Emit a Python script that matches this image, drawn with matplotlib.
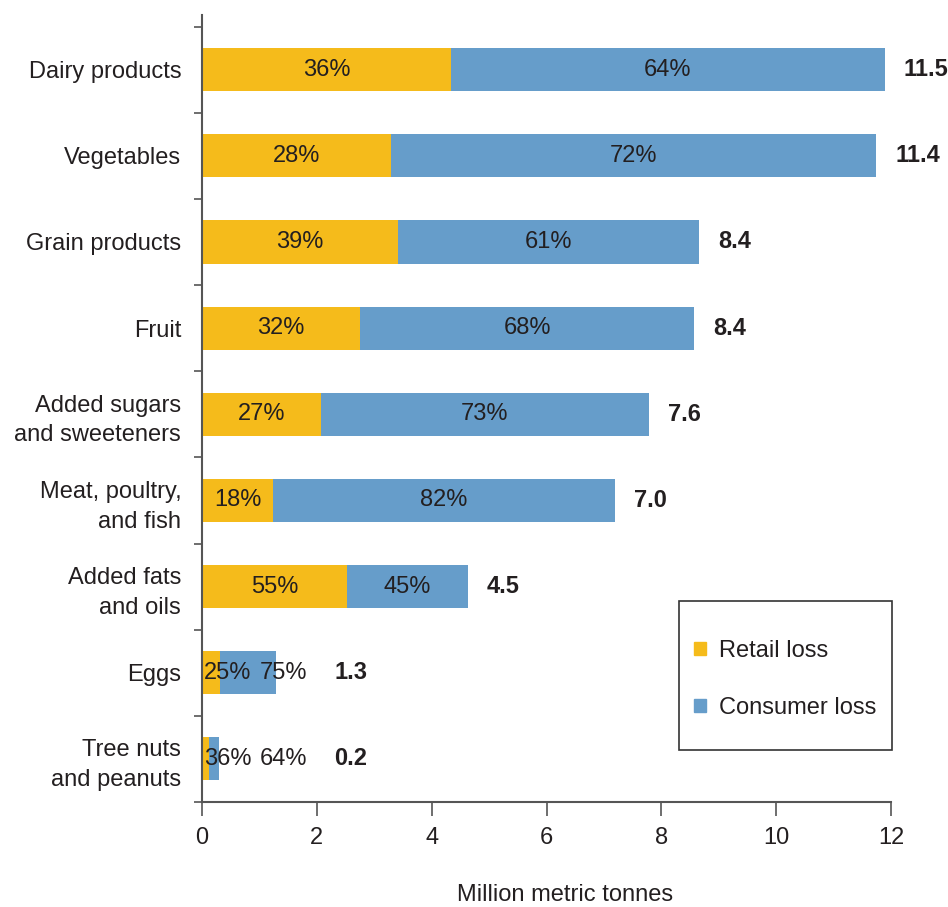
import numpy as np
import matplotlib
matplotlib.use("Agg")
import matplotlib.pyplot as plt
from matplotlib.patches import Patch, Rectangle

plt.rcParams['font.family'] = ['Liberation Sans', 'DejaVu Sans']

categories = ["Dairy products", "Vegetables", "Grain products", "Fruit",
              "Added sugars\nand sweeteners", "Meat, poultry,\nand fish",
              "Added fats\nand oils", "Eggs", "Tree nuts\nand peanuts"]
retail = [4.34, 3.29, 3.41, 2.75, 2.07, 1.24, 2.53, 0.32, 0.12]
consumer = [7.55, 8.45, 5.25, 5.82, 5.71, 5.95, 2.10, 0.97, 0.18]
retail_pct = ["36%", "28%", "39%", "32%", "27%", "18%", "55%", "25%", "36%"]
consumer_pct = ["64%", "72%", "61%", "68%", "73%", "82%", "45%", "75%", "64%"]
totals = ["11.5", "11.4", "8.4", "8.4", "7.6", "7.0", "4.5", "1.3", "0.2"]

c_retail = "#F5BB1B"
c_consumer = "#669DCA"
txt = "#231F20"

fig = plt.figure(figsize=(9.48, 9.07), dpi=100)
ax = fig.add_axes([0.2131, 0.1158, 0.7268, 0.8677])

y = np.arange(len(categories))
retail = np.array(retail)
consumer = np.array(consumer)
ax.barh(y, retail, height=0.5, color=c_retail)
ax.barh(y, consumer, left=retail, height=0.5, color=c_consumer)

fs = 17
for i in range(len(categories)):
    tot = retail[i] + consumer[i]
    if tot > 2:
        ax.text(retail[i] / 2, i, retail_pct[i], ha='center', va='center', fontsize=fs, color=txt)
        ax.text(retail[i] + consumer[i] / 2, i, consumer_pct[i], ha='center', va='center', fontsize=fs, color=txt)
        ax.text(tot + 0.33, i, totals[i], ha='left', va='center', fontsize=fs, fontweight='bold', color=txt)
    else:
        ax.text(0.04, i, retail_pct[i], ha='left', va='center', fontsize=fs, color=txt)
        ax.text(1.0, i, consumer_pct[i], ha='left', va='center', fontsize=fs, color=txt)
        ax.text(2.3, i, totals[i], ha='left', va='center', fontsize=fs, fontweight='bold', color=txt)

ax.set_xlim(0, 12)
ax.set_ylim(8.5, -0.635)
ax.set_xticks(np.arange(0, 13, 2))
ax.set_yticks(np.arange(-0.5, 9, 1))
ax.set_yticklabels([])
ax.set_yticks(y, minor=True)
ax.set_yticklabels(categories, minor=True, fontsize=fs, color=txt, ha='right',
                   multialignment='right', linespacing=1.45)
ax.tick_params(axis='y', which='minor', length=0, pad=15)
ax.tick_params(axis='y', which='major', length=6, color='#555555', width=1.2)
ax.tick_params(axis='x', length=10, color='#555555', width=1.2, labelsize=fs, labelcolor=txt, pad=8)

for s in ['top', 'right']:
    ax.spines[s].set_visible(False)
for s in ['left', 'bottom']:
    ax.spines[s].set_color('#555555')
    ax.spines[s].set_linewidth(1.5)

ax.set_xlabel("Million metric tonnes", fontsize=fs, color=txt, labelpad=25)
ax.xaxis.label.set_x(0.527)

# legend box
box = (0.692, 0.066, 0.3095, 0.1894)
ax.add_patch(Rectangle(box[:2], box[2], box[3], transform=ax.transAxes, fill=False,
                       edgecolor='#333333', linewidth=1.2, clip_on=False, zorder=5))
handles = [Patch(color=c_retail, label="Retail loss"), Patch(color=c_consumer, label="Consumer loss")]
leg = ax.legend(handles=handles, loc='center', bbox_to_anchor=(box[0], box[1] - 0.005, box[2], box[3]),
                fontsize=fs, frameon=False, handlelength=0.5, handleheight=0.5,
                handletextpad=0.55, labelspacing=1.5, borderpad=0, borderaxespad=0)
for t in leg.get_texts():
    t.set_color(txt)

fig.savefig("out.png", dpi=100)
